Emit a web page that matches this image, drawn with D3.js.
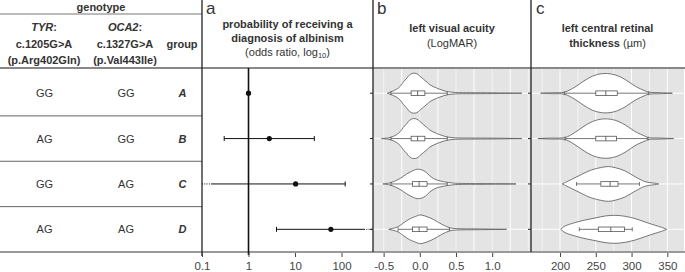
<!DOCTYPE html>
<html><head><meta charset="utf-8">
<script src="https://cdn.jsdelivr.net/npm/d3@7"></script>
<style>
html,body{margin:0;padding:0;background:#fff;}
svg{display:block;font-family:"Liberation Sans",Arial,Helvetica,sans-serif;}
</style></head>
<body><svg id="chart" width="685" height="272"></svg>
<script>
// ---------- data ----------
const groups = ["A", "B", "C", "D"];
const tyrGenotype = ["GG", "AG", "GG", "AG"];
const oca2Genotype = ["GG", "GG", "AG", "AG"];

// panel a: odds ratio with 95% CI (null = reference group)
const oddsRatio = [1, 2.8, 10.3, 59];
const ciLow = [null, 0.30, 0.05, 4.0];
const ciHigh = [null, 26, 120, 800];
const orTicks = [0.1, 1, 10, 100];
const orTickLabels = ["0.1", "1", "10", "100"];

// panel b: left visual acuity (LogMAR) – violin profiles [value, relative density]
const vaDensityA = [[-0.45,0],[-0.41,0.05],[-0.32,0.2],[-0.27,0.35],[-0.23,0.55],[-0.18,0.75],[-0.14,0.92],[-0.09,1.0],[-0.04,0.97],[0.0,0.86],[0.05,0.7],[0.1,0.55],[0.14,0.42],[0.23,0.26],[0.32,0.14],[0.38,0.08],[0.49,0.035],[0.7,0.025],[1.0,0.02],[1.41,0]];
const vaDensityB = [[-0.53,0],[-0.41,0.05],[-0.32,0.2],[-0.27,0.35],[-0.23,0.55],[-0.18,0.75],[-0.14,0.92],[-0.09,1.0],[-0.04,0.97],[0.0,0.86],[0.05,0.7],[0.1,0.55],[0.14,0.42],[0.23,0.26],[0.32,0.14],[0.38,0.08],[0.49,0.035],[0.7,0.025],[1.0,0.02],[1.41,0]];
const vaDensityC = [[-0.51,0],[-0.40,0.065],[-0.27,0.28],[-0.18,0.5],[-0.09,0.67],[-0.03,0.74],[0.03,0.7],[0.08,0.6],[0.14,0.4],[0.2,0.25],[0.28,0.15],[0.38,0.08],[0.49,0.035],[0.7,0.02],[1.0,0.015],[1.33,0]];
const vaDensityD = [[-0.43,0],[-0.3,0.13],[-0.23,0.31],[-0.14,0.52],[-0.04,0.67],[0.0,0.72],[0.07,0.67],[0.19,0.49],[0.3,0.26],[0.41,0.08],[0.51,0.035],[0.8,0.02],[1.2,0]];
// box stats: [whisker low, Q1, median, Q3, whisker high]
const vaBoxA = [-0.40, -0.12, -0.03, 0.07, 0.38];
const vaBoxB = [-0.40, -0.12, -0.03, 0.07, 0.38];
const vaBoxC = [-0.40, -0.10, -0.01, 0.10, 0.38];
const vaBoxD = [-0.30, -0.10, -0.01, 0.10, 0.41];
const vaTicks = [-0.5, 0, 0.5, 1.0];
const vaTickLabels = ["-0.5", "0.0", "0.5", "1.0"];
const vaGrid = [-0.5, -0.25, 0, 0.25, 0.5, 0.75, 1.0, 1.25, 1.5];

// panel c: left central retinal thickness (µm)
const crtDensityA = [[173,0],[190,0.025],[206,0.05],[221,0.31],[235,0.65],[249,0.9],[263,0.985],[277,0.915],[291,0.685],[305,0.35],[319,0.115],[324,0.05],[340,0.025],[357,0]];
const crtDensityB = [[169,0],[188,0.025],[207,0.05],[221,0.31],[235,0.65],[249,0.9],[263,0.985],[277,0.915],[291,0.685],[305,0.35],[319,0.115],[323,0.05],[340,0.025],[359,0]];
const crtDensityC = [[203,0],[216,0.225],[230,0.475],[244,0.7],[258,0.825],[267.5,0.87],[277,0.815],[291,0.65],[305,0.36],[319,0.115],[335,0.025],[338,0]];
const crtDensityD = [[201,0],[207,0.165],[221,0.335],[235,0.465],[249,0.565],[263,0.665],[277,0.7],[291,0.65],[305,0.535],[319,0.365],[333,0.2],[342,0.1],[349,0]];
const crtBoxA = [206, 250, 264, 280, 324];
const crtBoxB = [207, 250, 264, 279, 323];
const crtBoxC = [223, 257, 270, 281, 311];
const crtBoxD = [227, 253.5, 271, 290, 301];
const crtTicks = [200, 250, 300, 350];
const crtGrid = [175, 200, 225, 250, 275, 300, 325, 350, 375];

// ---------- layout ----------
const svg = d3.select("#chart");
const W = 685;
const plotTop = 68, plotBottom = 252;
const xTableEnd = 202, xA1 = 373, xB1 = 531, xC1 = 684;
const ink = "#222", txt = "#333";

const y = d3.scaleBand().domain(groups).range([70.5, 252]);
const cy = g => y(g) + y.bandwidth() / 2;

const xOR = d3.scaleLog().domain([0.1, 475]).range([xTableEnd, xA1]);
const xVA = d3.scaleLinear().domain([-0.647, 1.537]).range([xA1, xB1]);
const xCRT = d3.scaleLinear().domain([159.4, 373.3]).range([xB1, xC1]);
const wScale = d3.scaleLinear().domain([0, 1]).range([0, 20]);

// gray panels
svg.append("rect").attr("x", xA1).attr("y", plotTop).attr("width", xB1 - xA1).attr("height", plotBottom - plotTop).attr("fill", "#e4e4e4");
svg.append("rect").attr("x", xB1).attr("y", plotTop).attr("width", xC1 - xB1).attr("height", plotBottom - plotTop).attr("fill", "#e4e4e4");

function grid(xs, vals, x0, x1) {
  const gg = svg.append("g");
  gg.selectAll("line.v").data(vals).join("line")
    .attr("x1", d => xs(d)).attr("x2", d => xs(d))
    .attr("y1", plotTop).attr("y2", plotBottom)
    .attr("stroke", "#fff").attr("stroke-width", (d, i) => i % 2 === 0 ? 0.6 : 1.0);
  gg.selectAll("line.h").data(groups).join("line")
    .attr("x1", x0).attr("x2", x1)
    .attr("y1", d => cy(d)).attr("y2", d => cy(d))
    .attr("stroke", "#fff").attr("stroke-width", 1);
}
grid(xVA, vaGrid.filter(v => xVA(v) > xA1 && xVA(v) < xB1), xA1, xB1);
grid(xCRT, crtGrid.filter(v => xCRT(v) > xB1 && xCRT(v) < xC1), xB1, xC1);

// table
svg.append("line").attr("x1", 0).attr("x2", xTableEnd).attr("y1", 14).attr("y2", 14).attr("stroke", "#777").attr("stroke-width", 1);
svg.append("text").attr("x", 101).attr("y", 11).attr("text-anchor", "middle").attr("font-size", 11).attr("font-weight", "bold").attr("fill", txt).text("genotype");

function headerCol(x, gene, l2, l3) {
  const t = svg.append("text").attr("x", x).attr("y", 31).attr("text-anchor", "middle").attr("font-size", 11).attr("font-weight", "bold").attr("fill", txt);
  t.append("tspan").attr("font-style", "italic").text(gene);
  t.append("tspan").text(":");
  svg.append("text").attr("x", x).attr("y", 48).attr("text-anchor", "middle").attr("font-size", 11).attr("font-weight", "bold").attr("fill", txt).text(l2);
  svg.append("text").attr("x", x).attr("y", 64).attr("text-anchor", "middle").attr("font-size", 11).attr("font-weight", "bold").attr("fill", txt).text(l3);
}
headerCol(44, "TYR", "c.1205G>A", "(p.Arg402Gln)");
headerCol(125, "OCA2", "c.1327G>A", "(p.Val443Ile)");
svg.append("text").attr("x", 182).attr("y", 48).attr("text-anchor", "middle").attr("font-size", 11).attr("font-weight", "bold").attr("fill", txt).text("group");

const rows = svg.append("g");
groups.forEach((g, i) => {
  rows.append("text").attr("x", 44.5).attr("y", cy(g) + 4).attr("text-anchor", "middle").attr("font-size", 11).attr("fill", txt).text(tyrGenotype[i]);
  rows.append("text").attr("x", 126).attr("y", cy(g) + 4).attr("text-anchor", "middle").attr("font-size", 11).attr("fill", txt).text(oca2Genotype[i]);
  rows.append("text").attr("x", 182.5).attr("y", cy(g) + 4).attr("text-anchor", "middle").attr("font-size", 11).attr("font-weight", "bold").attr("font-style", "italic").attr("fill", txt).text(g);
  if (i > 0) {
    rows.append("line").attr("x1", 0).attr("x2", xTableEnd).attr("y1", y(g) - y.step() * y.paddingInner() / 2).attr("y2", y(g)).attr("stroke", "#666").attr("stroke-width", 1);
  }
});

// panel titles
function letter(x, s) {
  svg.append("text").attr("x", x).attr("y", 14).attr("font-size", 17).attr("fill", txt).text(s);
}
letter(206, "a"); letter(377, "b"); letter(536, "c");

const cA = (xTableEnd + xA1) / 2, cB = (xA1 + xB1) / 2, cC = (xB1 + xC1) / 2;
svg.append("text").attr("x", cA).attr("y", 28).attr("text-anchor", "middle").attr("font-size", 11).attr("font-weight", "bold").attr("fill", txt).text("probability of receiving a");
svg.append("text").attr("x", cA).attr("y", 41.5).attr("text-anchor", "middle").attr("font-size", 11).attr("font-weight", "bold").attr("fill", txt).text("diagnosis of albinism");
const lt = svg.append("text").attr("x", cA).attr("y", 55.5).attr("text-anchor", "middle").attr("font-size", 11).attr("fill", txt);
lt.append("tspan").text("(odds ratio, log");
lt.append("tspan").attr("font-size", 7.5).attr("dy", 2).text("10");
lt.append("tspan").attr("dy", -2).text(")");

svg.append("text").attr("x", cB).attr("y", 32).attr("text-anchor", "middle").attr("font-size", 11).attr("font-weight", "bold").attr("fill", txt).text("left visual acuity");
svg.append("text").attr("x", cB).attr("y", 46.5).attr("text-anchor", "middle").attr("font-size", 11).attr("fill", txt).text("(LogMAR)");
svg.append("text").attr("x", cC).attr("y", 32).attr("text-anchor", "middle").attr("font-size", 11).attr("font-weight", "bold").attr("fill", txt).text("left central retinal");
const tc = svg.append("text").attr("x", cC).attr("y", 46.5).attr("text-anchor", "middle").attr("font-size", 11).attr("fill", txt);
tc.append("tspan").attr("font-weight", "bold").text("thickness");
tc.append("tspan").text(" (\u00b5m)");

// horizontal frame lines
svg.append("line").attr("x1", 0).attr("x2", W).attr("y1", plotTop).attr("y2", plotTop).attr("stroke", "#888").attr("stroke-width", 2);
svg.append("line").attr("x1", 0).attr("x2", W).attr("y1", plotBottom).attr("y2", plotBottom).attr("stroke", "#999").attr("stroke-width", 2);

// ---------- panel a ----------
const pa = svg.append("g");
pa.append("line").attr("x1", xOR(1)).attr("x2", xOR(1)).attr("y1", plotTop).attr("y2", plotBottom + 3)
  .attr("stroke", "#111").attr("stroke-width", 1.6);
const [orMin, orMax] = xOR.domain();
const fade = 9;
groups.forEach((g, i) => {
  const yy = cy(g);
  if (ciLow[i] !== null) {
    const loClip = ciLow[i] < orMin, hiClip = ciHigh[i] > orMax;
    const xl = loClip ? xOR(orMin) + fade : xOR(ciLow[i]);
    const xh = hiClip ? xOR(orMax) - fade : xOR(ciHigh[i]);
    pa.append("line").attr("x1", xl).attr("x2", xh).attr("y1", yy).attr("y2", yy).attr("stroke", "#111").attr("stroke-width", 1);
    if (loClip) pa.append("line").attr("x1", xOR(orMin)).attr("x2", xl).attr("y1", yy).attr("y2", yy).attr("stroke", "#111").attr("stroke-width", 1).attr("stroke-dasharray", "1,1.3");
    else pa.append("line").attr("x1", xl).attr("x2", xl).attr("y1", yy - 2.5).attr("y2", yy + 2.5).attr("stroke", "#111").attr("stroke-width", 1);
    if (hiClip) pa.append("line").attr("x1", xh).attr("x2", xOR(orMax)).attr("y1", yy).attr("y2", yy).attr("stroke", "#111").attr("stroke-width", 1).attr("stroke-dasharray", "1,1.3");
    else pa.append("line").attr("x1", xh).attr("x2", xh).attr("y1", yy - 2.5).attr("y2", yy + 2.5).attr("stroke", "#111").attr("stroke-width", 1);
  }
  pa.append("circle").attr("cx", xOR(oddsRatio[i])).attr("cy", yy).attr("r", 2.6).attr("fill", "#111");
});

// ---------- violins ----------
function violins(xs, densities, boxes) {
  const gg = svg.append("g");
  groups.forEach((g, i) => {
    const yy = cy(g);
    const area = d3.area().curve(d3.curveCatmullRom.alpha(0.5))
      .x(d => xs(d[0])).y0(d => yy - wScale(d[1])).y1(d => yy + wScale(d[1]));
    gg.append("path").attr("d", area(densities[i])).attr("fill", "#fff").attr("stroke", "#555").attr("stroke-width", 0.8);
    const [wl, q1, md, q3, wh] = boxes[i];
    gg.append("line").attr("x1", xs(wl)).attr("x2", xs(wh)).attr("y1", yy).attr("y2", yy).attr("stroke", "#555").attr("stroke-width", 0.8);
    [wl, wh].forEach(v => gg.append("line").attr("x1", xs(v)).attr("x2", xs(v)).attr("y1", yy - 2).attr("y2", yy + 2).attr("stroke", "#555").attr("stroke-width", 0.8));
    gg.append("rect").attr("x", xs(q1)).attr("y", yy - 2.3).attr("width", xs(q3) - xs(q1)).attr("height", 4.6).attr("fill", "#fff").attr("stroke", "#555").attr("stroke-width", 0.8);
    gg.append("line").attr("x1", xs(md)).attr("x2", xs(md)).attr("y1", yy - 2.3).attr("y2", yy + 2.3).attr("stroke", "#555").attr("stroke-width", 0.9);
  });
}
violins(xVA, [vaDensityA, vaDensityB, vaDensityC, vaDensityD], [vaBoxA, vaBoxB, vaBoxC, vaBoxD]);
violins(xCRT, [crtDensityA, crtDensityB, crtDensityC, crtDensityD], [crtBoxA, crtBoxB, crtBoxC, crtBoxD]);

// vertical separators
[xTableEnd, xA1, xB1].forEach(x => {
  svg.append("line").attr("x1", x).attr("x2", x).attr("y1", 0).attr("y2", plotBottom + (x === xTableEnd ? 4 : 0)).attr("stroke", ink).attr("stroke-width", 1.3);
});
// row ticks on left of b and c
[xA1, xB1].forEach(x => {
  svg.append("g").selectAll("line").data(groups).join("line")
    .attr("x1", x - 3).attr("x2", x).attr("y1", d => cy(d)).attr("y2", d => cy(d)).attr("stroke", ink).attr("stroke-width", 1);
});

// ---------- bottom axes ----------
function bottomAxis(xs, ticks, labels) {
  const ax = d3.axisBottom(xs).tickValues(ticks).tickSize(4).tickPadding(5).tickFormat((d, i) => labels[i]);
  const gAx = svg.append("g").attr("transform", `translate(0,${plotBottom + 1})`).call(ax);
  gAx.select(".domain").remove();
  gAx.selectAll(".tick line").attr("stroke", "#444").attr("stroke-width", 1);
  gAx.selectAll(".tick text").attr("fill", "#444").attr("font-size", 11.5).attr("font-family", "Liberation Sans, Arial, sans-serif");
}
bottomAxis(xOR, orTicks, orTickLabels);
bottomAxis(xVA, vaTicks, vaTickLabels);
bottomAxis(xCRT, crtTicks, crtTicks.map(String));
</script></body></html>
